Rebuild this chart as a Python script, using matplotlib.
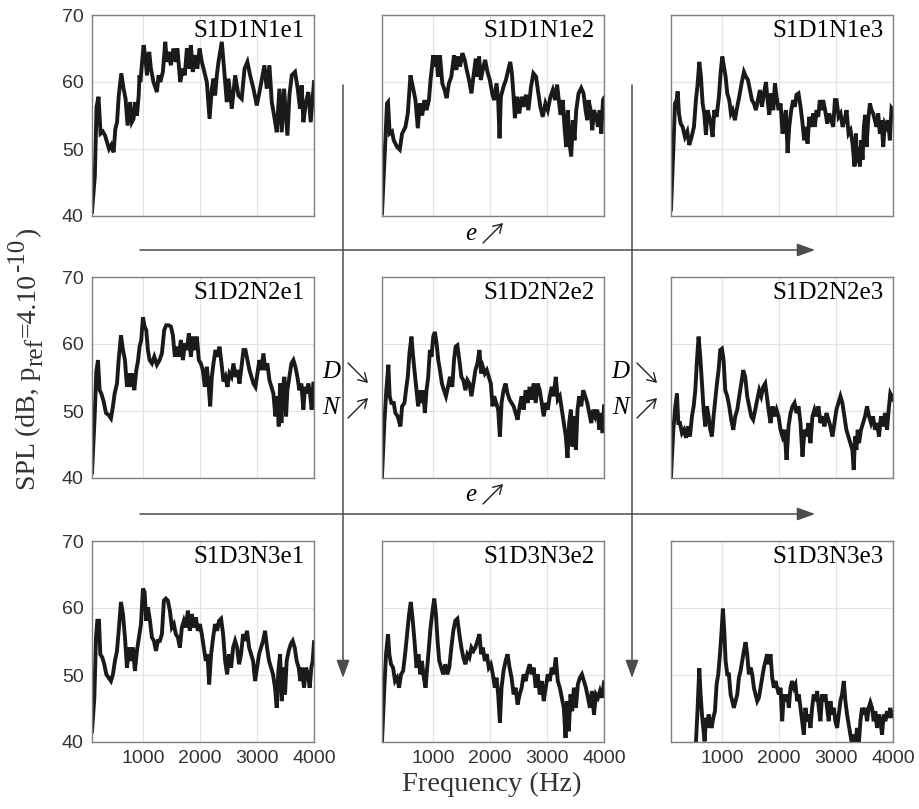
import matplotlib
matplotlib.use("Agg")
import matplotlib.pyplot as plt
from matplotlib.patches import FancyArrowPatch

plt.rcParams["font.family"] = "Liberation Serif"
plt.rcParams["mathtext.fontset"] = "stix"

# (frequency Hz, SPL dB)
s1d1n1e1 = [(100, 40.6), (150, 46.0), (180, 56.3), (215, 57.8), (250, 52.3), (290, 52.6), (330, 52.0), (400, 50.0), (440, 50.6), (480, 49.5), (510, 53.0), (540, 54.0), (570, 58.0), (615, 61.3), (655, 59.0), (690, 57.5), (725, 53.5), (770, 57.0), (800, 54.0), (830, 54.5), (860, 57.0), (890, 55.0), (920, 58.0), (935, 61.0), (950, 60.0), (980, 63.0), (1006, 65.5), (1035, 64.0), (1065, 61.0), (1105, 64.5), (1135, 62.0), (1180, 60.0), (1240, 58.5), (1270, 61.0), (1300, 60.0), (1345, 61.5), (1387, 66.0), (1415, 63.0), (1445, 64.5), (1485, 62.5), (1530, 65.0), (1570, 63.0), (1600, 65.0), (1650, 60.0), (1695, 62.0), (1730, 61.0), (1767, 65.0), (1800, 62.0), (1837, 65.5), (1870, 61.5), (1913, 64.0), (1950, 62.0), (1990, 65.0), (2030, 63.0), (2117, 60.0), (2165, 54.5), (2205, 59.0), (2235, 60.5), (2263, 58.0), (2293, 61.0), (2322, 63.0), (2380, 66.0), (2420, 62.0), (2468, 57.0), (2497, 60.5), (2556, 56.0), (2615, 61.0), (2673, 58.0), (2730, 57.5), (2780, 62.0), (2830, 63.0), (2878, 61.0), (2936, 59.0), (2995, 56.5), (3053, 59.0), (3129, 62.5), (3170, 59.0), (3217, 62.5), (3258, 57.0), (3299, 55.0), (3346, 52.5), (3392, 59.0), (3433, 52.5), (3474, 59.0), (3533, 52.0), (3568, 58.0), (3609, 61.0), (3667, 61.5), (3714, 59.0), (3755, 56.0), (3784, 59.5), (3813, 54.0), (3860, 57.0), (3901, 58.5), (3942, 54.0), (4000, 60.0)]

s1d1n1e2 = [(100, 40.4), (159, 51.3), (188, 56.8), (206, 57.0), (235, 52.3), (276, 52.6), (306, 51.3), (365, 50.3), (412, 49.9), (453, 52.3), (512, 53.3), (553, 55.3), (600, 61.0), (641, 59.3), (688, 57.3), (729, 53.1), (765, 56.8), (806, 55.0), (847, 57.3), (882, 55.8), (924, 57.3), (953, 60.3), (1000, 64.0), (1029, 62.3), (1059, 64.0), (1082, 60.8), (1118, 64.0), (1159, 59.8), (1200, 58.8), (1235, 57.6), (1276, 59.8), (1318, 60.8), (1365, 64.0), (1406, 61.8), (1435, 63.8), (1471, 62.3), (1512, 64.3), (1553, 63.3), (1588, 61.8), (1629, 60.3), (1671, 58.3), (1706, 60.8), (1747, 63.5), (1776, 60.8), (1806, 63.8), (1835, 60.3), (1882, 62.3), (1912, 63.3), (1953, 61.5), (1994, 60.3), (2041, 58.1), (2071, 57.3), (2112, 59.8), (2141, 57.3), (2165, 51.6), (2188, 57.8), (2235, 59.3), (2276, 60.3), (2318, 61.8), (2353, 63.0), (2382, 61.3), (2412, 57.8), (2435, 54.6), (2471, 57.8), (2512, 55.3), (2553, 57.8), (2588, 56.3), (2629, 58.1), (2671, 55.8), (2718, 59.3), (2759, 61.3), (2806, 60.8), (2847, 58.3), (2882, 56.3), (2924, 54.8), (2971, 56.8), (3012, 55.8), (3059, 57.8), (3100, 58.8), (3141, 57.3), (3176, 59.6), (3206, 57.3), (3235, 55.1), (3276, 57.3), (3306, 53.3), (3335, 50.3), (3365, 55.8), (3394, 50.8), (3424, 48.9), (3453, 54.3), (3482, 51.3), (3512, 55.8), (3553, 58.3), (3600, 59.1), (3641, 58.3), (3676, 55.8), (3706, 54.3), (3729, 57.3), (3765, 55.8), (3794, 52.8), (3824, 55.8), (3865, 54.8), (3894, 53.3), (3924, 55.8), (3953, 52.3), (3982, 57.3), (4000, 57.6)]

s1d1n1e3 = [(100, 41.0), (141, 49.9), (170, 56.8), (199, 57.3), (217, 58.6), (240, 55.3), (269, 53.8), (304, 53.3), (345, 51.8), (386, 52.6), (421, 50.6), (462, 51.8), (503, 53.3), (538, 57.3), (567, 59.6), (597, 63.0), (626, 60.8), (655, 56.8), (684, 55.3), (714, 52.1), (743, 55.8), (772, 54.8), (801, 53.8), (831, 51.8), (860, 55.8), (901, 54.8), (942, 57.8), (971, 61.3), (1001, 63.8), (1030, 62.3), (1059, 60.8), (1088, 58.3), (1123, 57.3), (1153, 55.3), (1182, 55.8), (1223, 54.3), (1252, 55.8), (1299, 57.8), (1340, 59.8), (1381, 61.5), (1416, 60.8), (1452, 60.3), (1487, 58.8), (1522, 57.3), (1557, 56.8), (1592, 55.8), (1627, 57.3), (1662, 58.8), (1697, 56.3), (1732, 58.3), (1768, 60.0), (1797, 57.3), (1826, 55.1), (1862, 58.3), (1897, 55.8), (1926, 59.8), (1955, 57.8), (1990, 55.8), (2025, 56.8), (2060, 52.3), (2089, 54.3), (2118, 55.8), (2148, 49.4), (2177, 53.3), (2212, 55.8), (2247, 57.3), (2276, 56.3), (2305, 58.1), (2340, 58.3), (2376, 56.3), (2411, 53.8), (2440, 51.3), (2469, 53.3), (2499, 50.8), (2528, 54.8), (2563, 53.3), (2598, 55.3), (2627, 53.3), (2656, 55.8), (2686, 54.8), (2715, 57.3), (2744, 55.8), (2773, 57.3), (2808, 55.8), (2845, 53.8), (2880, 55.3), (2915, 54.3), (2950, 53.3), (2979, 57.3), (3009, 57.3), (3044, 54.8), (3079, 55.3), (3114, 53.3), (3149, 54.3), (3184, 55.8), (3219, 52.3), (3254, 52.8), (3289, 50.8), (3324, 47.4), (3348, 52.3), (3371, 47.9), (3394, 50.3), (3418, 47.4), (3441, 51.3), (3465, 48.4), (3488, 53.3), (3511, 55.1), (3535, 50.3), (3564, 54.3), (3594, 56.8), (3623, 55.8), (3652, 55.3), (3681, 54.3), (3711, 53.3), (3740, 55.3), (3769, 52.3), (3798, 54.3), (3828, 50.3), (3857, 53.8), (3886, 53.3), (3915, 54.3), (3945, 51.3), (3974, 56.1), (4000, 55.8)]

s1d2n2e1 = [(100, 40.8), (147, 49.2), (176, 55.9), (205, 57.6), (234, 53.1), (264, 52.6), (305, 51.4), (346, 49.7), (392, 49.4), (433, 48.9), (468, 50.7), (498, 52.6), (539, 54.1), (568, 57.6), (609, 61.3), (644, 59.1), (679, 57.6), (714, 53.6), (743, 55.6), (772, 53.6), (808, 55.6), (843, 53.1), (878, 56.1), (907, 57.4), (936, 59.6), (965, 60.6), (995, 64.0), (1024, 62.6), (1053, 62.1), (1082, 59.1), (1112, 57.6), (1153, 57.1), (1194, 58.1), (1240, 56.9), (1287, 57.6), (1328, 58.6), (1369, 62.1), (1404, 62.8), (1445, 62.8), (1486, 62.6), (1521, 61.3), (1556, 58.1), (1591, 59.6), (1626, 58.1), (1661, 60.6), (1697, 57.6), (1732, 60.1), (1767, 59.1), (1802, 61.6), (1837, 58.1), (1872, 61.1), (1907, 59.1), (1942, 61.1), (1977, 57.6), (2012, 57.1), (2047, 56.1), (2082, 53.6), (2117, 56.6), (2147, 54.1), (2176, 50.7), (2205, 55.1), (2234, 57.1), (2269, 59.1), (2305, 58.1), (2340, 59.6), (2375, 57.1), (2410, 54.4), (2445, 55.1), (2480, 53.6), (2515, 55.6), (2550, 55.1), (2585, 57.1), (2621, 55.1), (2656, 56.1), (2691, 54.1), (2726, 56.6), (2761, 59.1), (2796, 59.1), (2831, 57.6), (2866, 56.1), (2901, 55.1), (2936, 54.1), (2971, 53.6), (3006, 55.6), (3041, 57.6), (3076, 56.1), (3111, 58.6), (3146, 56.1), (3181, 57.1), (3217, 54.6), (3252, 53.6), (3287, 52.6), (3322, 49.2), (3357, 52.2), (3380, 47.7), (3404, 54.1), (3427, 48.2), (3451, 53.1), (3480, 55.1), (3509, 49.2), (3532, 53.1), (3568, 55.1), (3603, 57.1), (3638, 57.6), (3673, 56.6), (3708, 55.1), (3743, 53.1), (3778, 54.1), (3813, 50.2), (3842, 53.6), (3871, 52.6), (3901, 54.1), (3930, 52.6), (3959, 50.2), (3988, 54.1), (4000, 54.1)]

s1d2n2e2 = [(100, 40.3), (141, 48.2), (176, 53.1), (212, 56.9), (235, 52.2), (265, 51.2), (306, 51.2), (335, 49.7), (376, 49.2), (424, 47.7), (453, 50.7), (494, 51.2), (529, 53.6), (553, 55.1), (582, 58.6), (618, 61.1), (647, 58.1), (676, 55.6), (706, 53.1), (735, 50.7), (765, 53.1), (794, 51.2), (824, 53.1), (853, 49.7), (882, 53.1), (912, 55.1), (941, 59.1), (971, 58.1), (1000, 61.1), (1029, 61.8), (1059, 60.1), (1088, 57.6), (1118, 56.1), (1153, 54.1), (1188, 53.1), (1224, 52.2), (1259, 53.6), (1294, 55.1), (1335, 53.6), (1365, 57.6), (1394, 59.6), (1424, 59.8), (1459, 57.6), (1494, 55.1), (1529, 54.6), (1565, 53.1), (1600, 54.6), (1635, 54.1), (1671, 52.2), (1706, 54.1), (1741, 56.1), (1776, 57.1), (1812, 59.1), (1841, 55.6), (1871, 56.6), (1906, 55.6), (1941, 56.1), (1976, 55.1), (2012, 54.1), (2041, 50.7), (2071, 52.2), (2106, 51.2), (2141, 50.2), (2171, 46.2), (2200, 51.2), (2235, 53.1), (2271, 54.1), (2306, 52.6), (2341, 51.7), (2376, 51.2), (2412, 50.7), (2447, 49.7), (2482, 48.7), (2518, 50.7), (2553, 52.2), (2588, 50.2), (2624, 53.1), (2659, 51.2), (2694, 53.6), (2729, 51.7), (2765, 54.1), (2800, 51.2), (2835, 54.1), (2871, 53.1), (2906, 51.2), (2941, 49.2), (2976, 51.2), (3012, 50.2), (3047, 52.2), (3082, 53.6), (3118, 52.2), (3153, 55.1), (3188, 51.7), (3224, 52.2), (3259, 50.2), (3294, 48.2), (3329, 46.2), (3359, 43.0), (3388, 48.2), (3418, 50.2), (3447, 44.7), (3476, 49.2), (3506, 44.2), (3535, 50.2), (3565, 52.2), (3600, 50.7), (3635, 53.1), (3671, 52.2), (3706, 51.2), (3741, 49.7), (3776, 48.2), (3812, 50.2), (3847, 49.2), (3882, 50.2), (3918, 47.2), (3947, 49.7), (3976, 46.7), (4000, 50.7)]

s1d2n2e3 = [(100, 40.3), (141, 47.2), (176, 50.7), (205, 52.6), (228, 48.2), (258, 48.2), (293, 46.7), (328, 47.2), (363, 46.0), (398, 47.7), (433, 46.2), (468, 49.2), (498, 50.7), (527, 53.1), (556, 57.6), (585, 61.1), (614, 58.1), (644, 54.1), (673, 50.2), (702, 47.7), (731, 50.7), (761, 49.2), (790, 47.2), (819, 46.2), (848, 49.2), (878, 51.7), (907, 54.1), (936, 56.1), (965, 59.1), (995, 59.3), (1024, 57.6), (1053, 53.1), (1088, 52.2), (1123, 50.7), (1158, 48.7), (1194, 47.2), (1229, 49.2), (1264, 50.2), (1299, 52.2), (1334, 54.1), (1369, 56.1), (1404, 55.1), (1439, 52.2), (1474, 50.7), (1509, 49.2), (1544, 48.7), (1580, 50.2), (1615, 51.7), (1650, 53.1), (1685, 52.2), (1720, 53.6), (1755, 54.1), (1784, 52.2), (1813, 50.2), (1849, 48.2), (1884, 50.7), (1919, 49.2), (1954, 50.2), (1989, 49.2), (2024, 47.2), (2059, 46.2), (2094, 47.2), (2130, 42.7), (2165, 47.7), (2200, 49.7), (2235, 50.7), (2270, 51.2), (2305, 49.7), (2340, 50.7), (2375, 48.2), (2410, 43.2), (2445, 47.2), (2480, 46.2), (2515, 48.2), (2550, 45.2), (2585, 49.2), (2620, 50.2), (2655, 49.2), (2690, 50.7), (2725, 48.2), (2761, 49.2), (2796, 47.7), (2831, 49.7), (2866, 48.7), (2901, 47.7), (2936, 46.2), (2971, 48.2), (3006, 50.2), (3041, 51.2), (3076, 52.2), (3111, 51.2), (3146, 49.2), (3181, 47.2), (3216, 46.2), (3251, 45.2), (3286, 44.2), (3310, 41.2), (3333, 46.2), (3357, 44.2), (3380, 47.2), (3403, 45.2), (3438, 47.2), (3474, 48.2), (3509, 49.2), (3544, 50.7), (3579, 49.2), (3614, 48.2), (3649, 49.2), (3684, 47.2), (3719, 48.2), (3754, 46.2), (3789, 49.2), (3825, 47.7), (3860, 49.7), (3895, 47.2), (3924, 50.2), (3953, 52.6), (3977, 52.2), (4000, 51.7)]

s1d3n3e1 = [(100, 41.6), (141, 46.6), (170, 55.6), (194, 58.1), (223, 58.1), (246, 53.1), (281, 52.6), (316, 51.6), (351, 50.1), (392, 49.6), (433, 49.1), (468, 50.1), (503, 52.1), (539, 53.6), (574, 57.1), (609, 60.9), (644, 59.1), (679, 55.6), (714, 51.1), (749, 54.1), (784, 52.1), (819, 54.1), (854, 50.6), (889, 53.6), (925, 55.6), (960, 57.6), (995, 62.9), (1024, 62.4), (1053, 58.1), (1082, 60.1), (1118, 58.1), (1153, 55.6), (1188, 55.1), (1223, 53.6), (1258, 55.1), (1293, 55.1), (1328, 56.1), (1363, 61.1), (1398, 61.4), (1433, 61.1), (1468, 59.6), (1503, 57.1), (1538, 57.6), (1573, 56.1), (1609, 55.6), (1644, 54.1), (1679, 57.1), (1714, 58.1), (1749, 57.1), (1784, 59.6), (1819, 56.6), (1854, 59.1), (1889, 57.1), (1924, 58.6), (1959, 56.6), (1994, 57.6), (2029, 56.1), (2064, 54.1), (2099, 52.1), (2129, 53.1), (2158, 48.6), (2193, 53.1), (2228, 55.6), (2263, 57.6), (2298, 56.6), (2333, 58.1), (2368, 58.4), (2403, 56.1), (2439, 52.1), (2474, 50.1), (2509, 53.1), (2544, 51.1), (2579, 54.1), (2614, 55.1), (2649, 54.1), (2684, 51.6), (2719, 53.1), (2754, 56.1), (2789, 55.1), (2824, 56.6), (2860, 54.1), (2895, 53.1), (2930, 52.1), (2965, 49.1), (3000, 51.1), (3035, 53.1), (3070, 54.1), (3105, 55.1), (3140, 56.6), (3175, 54.1), (3210, 52.1), (3245, 51.1), (3280, 50.1), (3315, 48.1), (3345, 45.1), (3374, 50.6), (3404, 53.1), (3433, 46.1), (3462, 51.1), (3491, 47.1), (3520, 52.1), (3556, 53.6), (3591, 54.6), (3626, 55.1), (3661, 54.1), (3696, 52.1), (3731, 51.1), (3760, 49.1), (3789, 51.1), (3825, 48.1), (3860, 51.1), (3895, 50.1), (3924, 48.1), (3953, 51.1), (3977, 52.1), (4000, 54.9)]

s1d3n3e2 = [(100, 40.1), (141, 48.1), (171, 53.1), (206, 56.1), (229, 53.1), (259, 51.6), (294, 51.1), (329, 49.1), (365, 49.6), (400, 48.1), (435, 50.1), (471, 50.6), (506, 53.1), (541, 56.1), (576, 59.1), (606, 60.9), (635, 58.6), (671, 55.1), (706, 51.1), (741, 53.1), (771, 50.1), (800, 52.1), (835, 49.6), (865, 48.1), (894, 51.1), (924, 54.1), (953, 57.1), (988, 59.6), (1018, 61.4), (1047, 59.1), (1076, 55.1), (1106, 52.1), (1141, 51.1), (1176, 50.1), (1212, 51.6), (1247, 50.1), (1282, 51.1), (1318, 54.1), (1353, 56.6), (1388, 58.1), (1424, 58.4), (1459, 56.1), (1494, 54.1), (1529, 52.6), (1565, 51.6), (1600, 53.1), (1635, 52.6), (1671, 54.1), (1706, 53.6), (1741, 54.1), (1776, 55.1), (1812, 56.1), (1841, 53.1), (1871, 54.1), (1906, 52.1), (1941, 53.1), (1976, 51.1), (2012, 51.6), (2047, 50.1), (2082, 48.1), (2112, 49.6), (2141, 47.1), (2171, 42.9), (2200, 48.1), (2235, 50.6), (2271, 52.1), (2306, 53.1), (2341, 51.1), (2376, 49.6), (2412, 47.1), (2447, 48.1), (2482, 45.6), (2518, 47.1), (2553, 48.1), (2588, 50.1), (2624, 49.1), (2659, 50.6), (2694, 51.6), (2729, 50.1), (2765, 51.1), (2800, 48.1), (2835, 50.1), (2871, 47.1), (2906, 49.1), (2941, 46.1), (2976, 48.1), (3012, 50.1), (3047, 49.1), (3082, 51.1), (3118, 50.1), (3153, 52.6), (3188, 49.1), (3224, 48.1), (3259, 46.6), (3294, 45.1), (3324, 40.6), (3353, 46.1), (3382, 41.6), (3412, 47.1), (3441, 44.6), (3471, 48.1), (3506, 45.1), (3541, 48.6), (3576, 49.6), (3612, 50.1), (3647, 49.1), (3682, 48.1), (3718, 46.6), (3753, 45.1), (3788, 47.6), (3824, 44.1), (3859, 47.1), (3894, 46.6), (3929, 47.6), (3965, 46.6), (4000, 48.9)]

s1d3n3e3 = [(500, 36.0), (539, 40.1), (568, 45.1), (597, 51.0), (620, 47.1), (644, 44.1), (667, 42.1), (691, 40.1), (714, 43.6), (737, 42.1), (761, 44.1), (784, 43.1), (813, 42.1), (843, 43.6), (872, 44.6), (901, 48.6), (930, 50.1), (960, 53.1), (989, 56.6), (1012, 59.9), (1036, 56.6), (1059, 52.1), (1088, 50.1), (1118, 50.1), (1147, 47.1), (1176, 46.1), (1205, 45.1), (1234, 46.1), (1264, 47.1), (1293, 49.6), (1322, 50.6), (1351, 52.1), (1381, 53.6), (1410, 54.9), (1439, 53.1), (1468, 50.1), (1498, 51.1), (1527, 50.1), (1556, 48.1), (1585, 47.1), (1615, 46.1), (1644, 46.6), (1673, 48.1), (1702, 49.6), (1732, 51.1), (1761, 52.1), (1790, 53.1), (1819, 51.6), (1848, 53.1), (1878, 49.6), (1907, 48.1), (1936, 49.1), (1965, 48.1), (1994, 47.1), (2024, 48.1), (2053, 43.1), (2082, 47.1), (2111, 46.1), (2141, 47.1), (2170, 45.1), (2199, 48.1), (2228, 49.1), (2258, 48.1), (2287, 48.6), (2316, 46.1), (2345, 47.1), (2375, 45.1), (2404, 43.1), (2433, 41.1), (2462, 45.1), (2491, 43.1), (2521, 44.1), (2550, 42.1), (2579, 45.1), (2608, 47.1), (2638, 46.1), (2667, 47.6), (2696, 45.1), (2725, 43.1), (2754, 47.1), (2784, 46.1), (2813, 47.1), (2842, 45.1), (2871, 43.1), (2901, 46.1), (2930, 44.1), (2959, 45.1), (2988, 43.1), (3018, 42.1), (3047, 44.1), (3076, 46.1), (3105, 47.1), (3135, 49.1), (3164, 46.1), (3193, 44.1), (3222, 42.6), (3251, 41.1), (3281, 39.6), (3310, 41.1), (3339, 39.6), (3368, 42.1), (3398, 39.6), (3427, 43.1), (3456, 45.1), (3485, 44.1), (3515, 45.1), (3544, 43.1), (3573, 45.1), (3602, 45.9), (3632, 45.1), (3661, 43.1), (3690, 44.6), (3719, 42.1), (3749, 44.1), (3778, 43.1), (3807, 41.1), (3836, 44.1), (3866, 43.1), (3895, 44.6), (3924, 43.6), (3953, 45.1), (3977, 43.6), (4000, 44.4)]

panel_data = [
    [s1d1n1e1, s1d1n1e2, s1d1n1e3],
    [s1d2n2e1, s1d2n2e2, s1d2n2e3],
    [s1d3n3e1, s1d3n3e2, s1d3n3e3],
]
panel_names = [
    ["S1D1N1e1", "S1D1N1e2", "S1D1N1e3"],
    ["S1D2N2e1", "S1D2N2e2", "S1D2N2e3"],
    ["S1D3N3e1", "S1D3N3e2", "S1D3N3e3"],
]
x_ticks = [1000, 2000, 3000, 4000]
y_ticks = [40, 50, 60, 70]

W, H = 919, 809
fig = plt.figure(figsize=(W / 100, H / 100), dpi=100)


def fx(x):
    return x / W


def fy(y):
    return 1 - y / H


col_left = [92, 382, 671]
row_top = [15, 277, 541]
ax_w, ax_h = 222, 201

for r in range(3):
    for c in range(3):
        ax = fig.add_axes([fx(col_left[c]), fy(row_top[r] + ax_h),
                           ax_w / W, ax_h / H])
        f, spl = zip(*panel_data[r][c])
        ax.plot(f, spl, color="#1a1a1a", lw=2.8, solid_joinstyle="miter")
        ax.set_xlim(100, 4000)
        ax.set_ylim(40, 70)
        ax.set_xticks(x_ticks)
        ax.set_yticks(y_ticks)
        ax.grid(True, color="#e3e3e3", lw=0.9)
        ax.set_axisbelow(True)
        for s in ax.spines.values():
            s.set_color("#808080")
            s.set_linewidth(1.0)
        ax.tick_params(length=0, labelsize=14, labelcolor="#333333",
                       pad=6)
        for lab in ax.get_xticklabels() + ax.get_yticklabels():
            lab.set_family("Liberation Sans")
        if r < 2:
            ax.set_xticklabels([])
        if c > 0:
            ax.set_yticklabels([])
        ax.text(0.96, 0.975, panel_names[r][c], transform=ax.transAxes,
                ha="right", va="top", fontsize=18)

# y label built piece by piece so the sub/superscripts keep a large size
renderer = fig.canvas.get_renderer()
ylabel_parts = [("SPL (dB, p", 20, 0), ("ref", 18, 7), ("=4.10", 20, 0),
                ("-10", 18, -11), (")", 20, 0)]
y_cursor = 490
for txt, size, shift in ylabel_parts:
    t = fig.text(fx(35 + shift), fy(y_cursor), txt, rotation=90,
                 rotation_mode="anchor", ha="left", va="baseline",
                 fontsize=size, color="#333333")
    y_cursor -= t.get_window_extent(renderer).height + 1

fig.text(fx(492), fy(784), "Frequency (Hz)", ha="center", va="center",
         fontsize=20.5, color="#333333")


def big_arrow(x0, y0, x1, y1):
    fig.add_artist(FancyArrowPatch(
        (fx(x0), fy(y0)), (fx(x1), fy(y1)), transform=fig.transFigure,
        arrowstyle="-|>,head_length=1.1,head_width=0.4", mutation_scale=10,
        color="#4d4d4d", lw=1.1, shrinkA=0, shrinkB=0))


def small_arrow(x0, y0, x1, y1):
    fig.add_artist(FancyArrowPatch(
        (fx(x0), fy(y0)), (fx(x1), fy(y1)), transform=fig.transFigure,
        arrowstyle="->,head_length=0.5,head_width=0.3", mutation_scale=12,
        color="#222222", lw=1.0, shrinkA=0, shrinkB=0))


# e increases across rows, D decreases / N increases down the columns
for y in [250, 514]:
    big_arrow(140, y, 815, y)
for x in [343, 632]:
    big_arrow(x, 85, x, 678)

for ye in [234, 495]:
    fig.text(fx(471), fy(ye), "e", style="italic", fontsize=18,
             ha="center", va="center")
    small_arrow(483, ye + 9, 503, ye - 11)

for xd in [331, 620]:
    fig.text(fx(xd), fy(372), "D", style="italic", fontsize=18,
             ha="center", va="center")
    fig.text(fx(xd), fy(408), "N", style="italic", fontsize=18,
             ha="center", va="center")
    small_arrow(xd + 17, 363, xd + 37, 383)
    small_arrow(xd + 17, 418, xd + 37, 398)

fig.savefig("out.png", dpi=100)
